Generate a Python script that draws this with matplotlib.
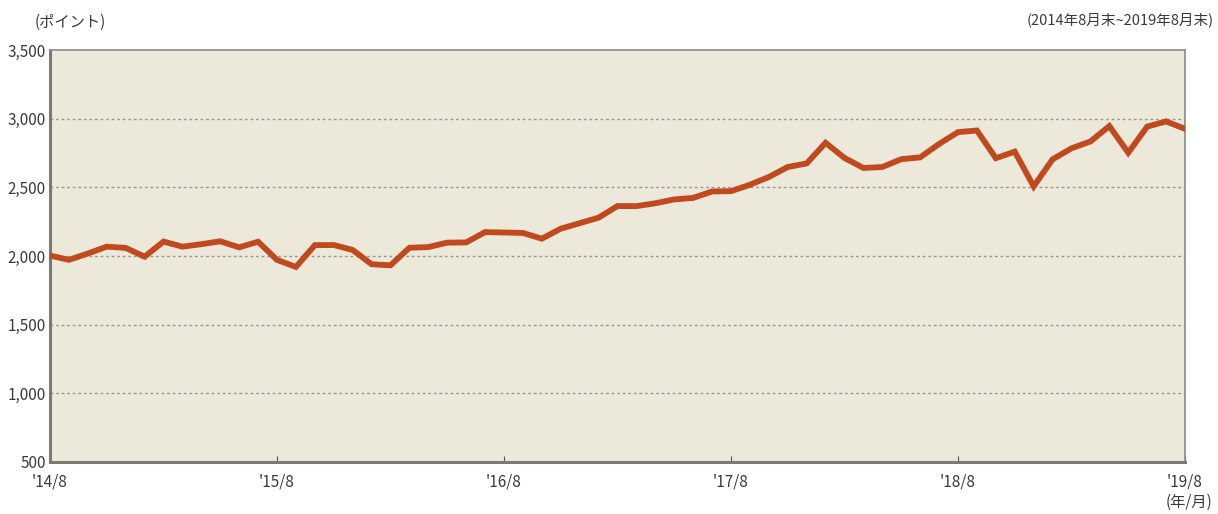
import numpy as np
import matplotlib
matplotlib.use("Agg")
import matplotlib.pyplot as plt

plt.rcParams['font.family'] = ['Noto Sans CJK JP', 'DejaVu Sans']

# monthly closes, 2014/8 .. 2019/8 (points)
values = [2003, 1972, 2018, 2068, 2059,
          1995, 2105, 2068, 2086, 2107, 2063, 2104, 1972, 1920, 2079, 2080, 2044,
          1940, 1932, 2060, 2065, 2097, 2099, 2174, 2171, 2168, 2126, 2199, 2239,
          2279, 2364, 2363, 2384, 2412, 2423, 2470, 2472, 2519, 2575, 2648, 2674,
          2824, 2714, 2641, 2648, 2705, 2718, 2816, 2902, 2914, 2712, 2760, 2507,
          2704, 2784, 2834, 2946, 2752, 2942, 2980, 2926]
tick_labels = ["'14/8", "'15/8", "'16/8", "'17/8", "'18/8", "'19/8"]
y_ticks = [500, 1000, 1500, 2000, 2500, 3000, 3500]

months = np.arange(len(values))

fig = plt.figure(figsize=(12.18, 5.14), dpi=100)
ax = fig.add_axes([50 / 1218, 1 - 462 / 514, 1135 / 1218, 412 / 514])
ax.set_facecolor('#ECE9DA')

for y in y_ticks[1:-1]:
    ax.axhline(y, color='#9a9a90', lw=1.0, ls=(0, (2, 2)), zorder=1)

ax.plot(months, values, color='#C04A1E', lw=4.2, solid_joinstyle='miter', zorder=3)

ax.set_xlim(0, 60)
ax.set_ylim(500, 3500)
ax.set_yticks(y_ticks)
ax.set_yticklabels(['{:,}'.format(v) for v in y_ticks], fontsize=11, color='#3a3a3a')
ax.set_xticks(np.arange(0, 61, 12))
ax.set_xticklabels(tick_labels, fontsize=11, color='#3a3a3a')
ax.tick_params(axis='y', length=0, pad=3)
ax.tick_params(axis='x', direction='in', length=4, color='#555555', pad=8)

for side in ['top', 'right']:
    ax.spines[side].set_color('#8a8a8a')
    ax.spines[side].set_linewidth(1.2)
for side in ['left', 'bottom']:
    ax.spines[side].set_color('#7a7a74')
    ax.spines[side].set_linewidth(2.2)

fig.text(35 / 1218, 1 - 22 / 514, '(ポイント)', fontsize=11, color='#3a3a3a',
         ha='left', va='center')
fig.text(1214 / 1218, 1 - 20 / 514, '(2014年8月末~2019年8月末)', fontsize=10.5,
         color='#3a3a3a', ha='right', va='center')
fig.text(1212 / 1218, 1 - 502 / 514, '(年/月)', fontsize=11, color='#3a3a3a',
         ha='right', va='center')

fig.savefig('out.png', dpi=100)
